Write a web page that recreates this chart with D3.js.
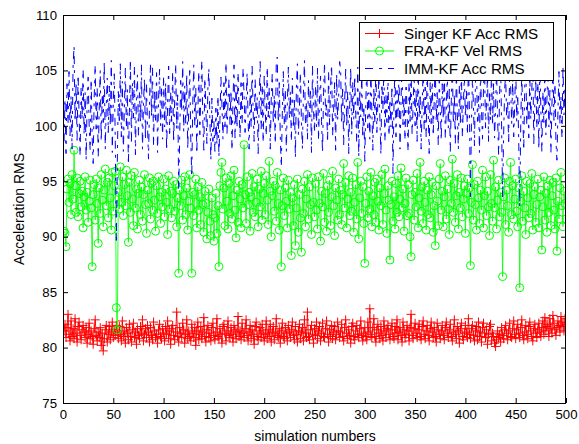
<!DOCTYPE html>
<html><head><meta charset="utf-8">
<script src="https://cdn.jsdelivr.net/npm/d3@7"></script>
<style>
html,body{margin:0;padding:0;background:#fff;}
svg{display:block;font-family:"Liberation Sans",Arial,sans-serif;}
</style></head>
<body>
<script>
// ---- data ----
const seriesNames = ["Singer KF Acc RMS", "FRA-KF Vel RMS", "IMM-KF Acc RMS"];
const xTicks = [0,50,100,150,200,250,300,350,400,450,500];
const yTicks = [75,80,85,90,95,100,105,110];
const xLabel = "simulation numbers";
const yLabel = "Acceleration RMS";

const singerKF = [
81.5,82.1,80.9,81.8,83.0,81.2,80.6,82.4,81.0,81.7,80.8,82.6,81.3,80.5,81.9,82.3,81.1,80.7,81.6,82.0,81.4,80.9,81.8,80.4,81.2,
82.2,80.8,81.5,81.0,80.3,81.7,82.5,81.1,80.6,81.4,80.9,81.8,80.2,81.3,79.7,80.8,81.6,82.0,80.5,81.2,81.9,80.7,81.4,82.3,80.9,
81.6,81.1,82.0,81.4,80.8,81.9,81.2,80.6,82.4,81.0,81.5,80.4,81.8,81.3,80.7,82.1,81.0,80.5,81.6,82.2,80.9,81.4,80.3,81.7,81.1,
80.8,81.9,81.3,82.5,80.6,81.2,81.7,80.9,82.0,81.4,80.5,81.8,81.1,80.7,82.3,81.5,80.9,81.2,80.4,81.6,82.1,81.0,80.8,81.7,81.3,
80.6,81.9,81.2,82.4,80.8,81.5,80.3,81.7,82.0,81.1,80.7,81.4,83.2,81.0,80.5,81.8,81.3,80.9,82.2,81.6,80.4,81.2,82.5,80.8,81.5,
81.0,80.6,82.1,81.3,80.9,81.8,80.2,81.5,82.3,80.7,81.2,81.9,80.8,81.4,82.7,81.0,80.5,81.6,82.0,80.9,81.3,80.6,81.8,82.2,81.1,
80.7,81.4,82.6,81.0,80.8,81.7,81.2,80.4,81.9,82.1,81.3,80.6,81.5,82.4,81.1,80.9,81.8,81.2,80.5,82.0,81.6,80.8,81.4,82.8,81.0,
81.5,80.7,82.2,81.3,80.9,81.7,82.5,81.1,80.6,81.4,82.0,80.8,81.6,81.2,80.3,81.9,82.3,81.0,80.7,81.5,81.8,80.9,82.1,81.3,80.6,
81.2,82.4,80.8,81.6,81.0,82.1,80.5,81.4,81.9,80.7,81.3,82.6,81.1,80.9,81.7,80.4,81.5,82.2,81.0,80.8,81.8,81.3,80.6,82.0,81.4,
80.9,81.6,82.3,81.1,80.7,81.9,81.2,80.5,81.5,82.1,80.8,81.4,81.8,80.6,82.5,81.3,80.9,83.2,81.0,80.7,81.6,82.0,81.2,80.4,81.7,
81.1,82.3,80.8,81.5,81.9,80.6,81.3,82.2,81.0,80.9,81.7,82.4,81.2,80.5,81.6,81.0,82.0,80.8,81.4,81.9,80.7,81.2,82.3,81.5,80.9,
81.4,82.1,81.0,80.6,81.8,82.5,81.3,80.8,81.6,81.1,80.4,81.9,82.2,81.0,80.7,81.5,82.0,81.2,80.9,81.7,82.4,81.1,80.6,81.3,81.8,
81.0,80.7,82.3,81.4,83.5,81.2,80.9,81.8,82.6,81.0,80.5,81.6,82.1,81.3,80.8,81.9,81.1,80.6,82.4,81.5,80.9,81.7,82.0,81.2,80.7,
81.6,82.2,81.0,80.8,81.9,81.3,82.5,80.7,81.4,81.8,81.1,80.5,82.3,81.6,80.9,81.2,82.0,81.5,80.6,81.8,83.0,81.1,80.8,81.7,82.2,
81.3,80.9,81.6,82.1,81.0,80.7,81.9,82.4,81.2,80.8,81.5,82.0,81.1,80.6,81.7,82.3,81.4,80.9,81.8,81.0,80.5,82.2,81.6,81.2,80.8,
81.5,82.0,81.1,80.7,81.8,82.3,81.3,80.9,81.6,82.1,81.0,80.6,81.4,82.5,81.2,80.8,81.9,81.5,80.4,81.7,82.2,81.0,80.7,81.3,82.0,
81.4,80.9,82.6,81.2,80.8,81.7,82.0,81.1,80.6,81.5,81.9,80.7,82.3,81.0,81.4,80.5,81.8,82.2,81.3,80.9,81.6,80.3,81.2,81.9,82.1,
80.6,81.3,81.0,80.4,80.1,80.7,81.5,80.9,81.2,80.5,81.8,81.1,80.8,81.6,82.0,81.3,80.7,81.5,82.2,81.0,80.9,81.7,82.4,81.2,80.8,
81.6,82.1,81.3,80.9,81.8,82.5,81.1,80.7,81.4,82.0,81.2,80.8,81.9,82.3,81.5,81.0,80.6,81.7,82.1,81.3,80.9,81.6,82.2,81.4,81.0,
81.8,82.4,81.2,82.7,81.5,81.9,82.1,81.0,82.6,81.7,81.3,82.9,82.2,81.6,81.1,81.8,82.4,82.0,81.4,82.8,81.9,82.3,81.5,82.6,82.1];

const fraKF = [
90.5,90.3,89.1,94.3,95.2,93.1,94.8,92.0,95.6,93.4,97.8,94.6,92.2,95.3,91.8,93.9,95.0,92.7,94.1,90.8,93.6,95.4,92.4,94.0,91.3,
93.2,95.1,92.6,87.3,93.8,94.7,91.5,95.2,93.0,89.4,94.4,92.1,95.6,93.3,90.9,94.2,96.1,92.8,94.9,91.7,95.3,93.5,90.6,95.8,92.3,
94.6,95.9,83.6,81.6,94.0,92.5,96.3,93.1,95.4,91.9,94.7,92.8,96.0,93.7,89.5,94.9,92.2,95.5,93.4,91.0,95.8,92.6,94.3,90.7,93.9,
95.1,92.0,94.5,91.4,93.8,95.6,92.9,90.3,94.2,93.0,95.3,91.6,94.8,92.4,95.0,93.3,90.5,94.6,92.1,95.4,93.6,91.2,94.0,92.7,95.2,
91.8,94.3,93.1,90.2,95.5,92.5,94.1,91.7,93.9,95.0,92.3,94.7,90.9,93.5,86.7,94.2,92.8,95.1,91.5,93.7,95.4,92.0,94.4,90.6,93.2,
95.6,92.6,86.7,94.0,91.9,93.8,95.2,90.8,94.5,92.4,93.6,91.1,94.9,92.9,90.4,94.1,93.0,89.8,92.2,94.3,91.4,90.1,93.5,92.0,89.6,
91.7,93.9,90.3,92.8,87.3,94.6,95.8,96.7,92.5,94.4,91.0,95.3,93.2,90.7,94.8,92.1,95.5,91.6,93.7,96.0,92.4,89.9,94.2,91.3,95.0,
93.4,90.8,94.7,92.6,98.3,93.8,91.2,95.4,92.9,94.0,90.5,93.6,95.7,92.2,94.5,91.8,93.1,95.2,90.9,94.3,92.7,95.9,91.5,93.9,94.8,
92.0,95.5,93.3,91.1,96.8,94.1,90.0,93.7,95.0,92.3,94.6,91.4,95.8,93.0,90.6,94.2,87.3,92.8,95.3,91.9,94.4,93.2,90.8,95.1,92.5,
94.0,88.3,93.5,91.0,94.7,89.2,92.6,95.2,90.4,93.8,91.7,88.6,94.3,92.1,95.0,90.9,93.4,95.6,91.6,94.5,92.9,90.2,95.3,93.1,91.8,
94.8,92.4,90.7,95.4,93.0,89.6,94.1,92.7,95.7,91.3,93.9,90.5,94.6,92.2,95.1,91.0,93.6,95.9,92.8,90.1,94.4,93.3,91.5,95.2,92.0,
94.2,91.1,93.8,96.6,92.6,94.9,90.8,93.4,95.5,91.9,94.0,92.3,95.3,90.4,93.1,94.7,91.6,96.7,89.8,93.5,95.0,92.1,94.5,91.2,87.6,
93.0,95.4,91.7,94.1,92.5,95.8,90.9,93.7,92.0,94.9,91.3,95.2,93.2,90.6,94.4,92.8,95.6,91.1,93.9,96.1,92.4,90.3,94.6,93.3,87.9,
92.9,95.0,91.4,93.6,90.7,94.8,92.2,95.5,91.8,93.4,96.2,92.6,94.3,90.5,93.0,95.3,91.9,94.7,92.1,90.0,88.2,93.8,95.1,91.5,94.0,
92.7,95.7,90.8,93.5,96.7,92.3,94.5,91.2,95.0,93.1,90.6,94.2,92.0,95.4,91.7,93.8,94.9,90.4,92.8,89.2,94.6,93.2,91.0,95.2,96.6,
92.4,94.1,90.9,93.6,95.5,91.6,94.3,92.5,90.2,95.1,93.0,97.0,92.2,94.8,91.3,93.7,95.6,90.7,94.0,92.6,95.3,91.8,93.4,94.6,90.3,
93.9,95.2,92.1,94.4,87.4,93.1,96.5,91.5,94.7,92.9,90.6,95.0,93.5,91.2,94.2,92.4,96.0,90.8,93.7,95.4,91.9,94.1,92.7,90.1,95.6,
93.0,91.4,96.9,92.6,94.5,90.7,93.3,95.1,91.8,94.0,92.2,86.4,93.6,95.3,91.1,94.2,92.8,90.4,95.0,96.7,92.0,94.6,91.6,93.4,95.2,
92.3,90.9,94.4,85.4,93.2,95.5,91.4,94.1,92.6,90.2,95.0,93.5,91.7,94.8,92.1,95.7,90.6,93.8,94.5,91.3,92.9,95.2,90.8,93.6,94.2,
88.8,92.7,95.4,91.5,93.9,90.4,94.6,92.2,95.1,91.0,93.7,94.9,92.4,90.7,95.3,88.7,93.2,91.6,94.4,95.8,92.8,90.9,94.1,93.0,91.6];

const immKF = [
98.6,102.4,97.5,103.8,100.2,104.9,99.1,102.7,97.9,105.3,107.2,100.4,103.9,98.7,104.6,101.0,97.3,103.5,100.6,105.1,99.2,103.0,96.9,102.2,104.4,
100.1,97.8,104.2,98.9,96.6,102.6,105.5,99.7,103.4,97.2,101.5,105.0,98.6,102.9,100.3,105.8,97.9,101.8,104.3,99.4,103.6,100.0,105.9,97.6,102.1,
104.7,98.5,89.4,96.8,103.1,100.2,105.6,99.0,104.0,97.7,101.6,105.2,99.8,103.3,96.5,101.2,106.0,98.6,103.9,100.7,105.4,97.4,102.5,104.6,99.1,
103.0,100.3,105.5,97.9,102.0,104.3,98.7,103.8,100.1,97.0,101.9,105.7,100.8,105.3,98.2,103.2,100.5,104.8,97.6,102.4,105.1,100.0,103.5,98.8,104.5,
99.9,103.9,97.8,102.0,105.4,99.3,103.1,100.4,104.9,98.5,102.3,105.6,99.7,102.8,94.2,99.0,104.1,101.3,105.8,99.5,103.6,100.2,104.7,97.9,101.6,
105.0,98.9,95.4,102.1,105.5,100.0,103.4,97.5,101.1,104.9,99.2,102.8,105.9,100.4,97.8,104.3,101.7,98.4,103.3,105.2,100.6,96.9,102.5,98.6,100.4,
97.7,101.6,98.3,102.7,97.2,100.5,104.4,101.9,98.8,103.9,99.9,105.7,99.3,102.1,104.2,100.1,103.2,97.8,102.4,105.5,98.9,103.7,99.8,104.8,101.5,
98.9,103.9,100.2,105.2,102.8,99.4,101.9,104.8,100.5,97.9,103.3,99.9,105.4,101.3,98.6,104.2,100.7,102.6,97.5,102.1,105.8,99.7,103.7,98.5,104.5,
101.5,99.1,105.3,100.8,103.5,97.9,102.4,104.7,100.2,102.8,98.4,105.8,106.2,100.3,103.9,99.0,96.3,101.1,104.9,100.0,103.2,97.7,102.0,105.3,100.6,
103.1,98.6,104.3,99.8,102.3,97.1,103.5,105.6,99.2,101.7,104.8,100.5,97.9,102.8,105.9,100.1,102.2,98.8,104.1,100.8,103.4,97.6,105.4,101.5,99.4,
103.6,99.9,105.2,98.7,102.4,104.5,100.4,97.6,103.0,105.7,100.9,101.9,98.5,104.9,100.1,103.7,105.5,99.1,101.4,103.9,97.8,104.7,100.5,102.6,105.8,
105.0,100.2,103.6,98.3,102.3,105.1,99.9,103.1,97.5,101.9,105.3,99.2,103.9,100.6,104.5,101.0,98.5,105.3,97.2,103.3,100.8,104.8,98.9,101.8,96.8,
102.1,105.4,99.8,103.0,98.8,104.9,101.4,97.8,103.5,100.2,105.7,99.4,102.0,104.3,100.7,97.4,103.8,101.5,105.2,98.6,102.8,100.3,104.6,99.1,102.4,
99.9,103.6,95.7,101.8,105.5,99.0,103.2,100.8,104.9,97.9,102.2,105.8,100.1,102.7,98.7,104.4,101.2,97.7,103.9,100.4,105.3,99.3,101.7,104.7,100.0,
103.3,98.6,105.6,100.7,102.9,97.9,101.9,105.1,99.7,103.5,99.0,105.4,101.5,97.5,103.9,100.2,104.6,99.1,102.3,105.9,100.4,103.0,98.3,104.2,101.7,
98.7,103.8,100.6,105.5,98.9,101.4,104.8,99.8,103.3,97.7,102.3,105.7,100.2,102.9,98.4,105.0,101.0,97.9,103.7,100.3,105.2,99.0,102.0,104.5,100.8,
103.2,99.2,106.0,101.3,93.6,100.1,104.3,101.8,98.2,103.9,105.4,100.4,102.7,97.6,104.9,101.5,98.8,103.5,105.6,99.8,102.2,104.4,98.6,103.0,100.5,
105.3,100.0,103.8,98.9,101.7,105.1,100.7,97.4,103.1,105.8,99.9,93.6,99.1,103.3,104.6,100.8,102.1,98.3,105.2,103.5,100.2,104.3,99.0,101.9,105.5,
100.4,102.8,98.7,92.7,100.0,104.7,101.2,97.8,103.6,105.7,100.1,102.4,98.9,104.5,100.6,103.2,106.0,98.4,102.0,104.2,99.8,103.9,97.9,105.6,101.6,
97.7,103.1,100.3,105.3,99.2,102.3,104.8,99.9,103.2,97.6,101.8,105.6,100.5,103.8,98.6,96.9,101.4,104.9,100.2,102.7,98.9,105.4,101.0,103.5,100.7];

// ---- layout ----
const W = 579, H = 444;
const M = {left: 63, right: 566, top: 15, bottom: 403};
const FS_TICK = 13.2, FS_LABEL = 14, FS_LEGEND = 15.2;

const svg = d3.select("body").append("svg").attr("width", W).attr("height", H);
svg.append("rect").attr("width", W).attr("height", H).attr("fill", "#fff");

const x = d3.scaleLinear().domain([0, 500]).range([M.left, M.right]);
const y = d3.scaleLinear().domain([75, 110]).range([M.bottom, M.top]);

svg.append("clipPath").attr("id", "clip").append("rect")
  .attr("x", M.left).attr("y", M.top).attr("width", M.right - M.left).attr("height", M.bottom - M.top);

const plot = svg.append("g").attr("clip-path", "url(#clip)");
const line = d3.line().x((d, i) => x(i + 1)).y(d => y(d));
const plusSize = 4.5;
const RED = "#ff0000", GREEN = "#00ff00", BLUE = "#0000ff";

// Singer KF (red, +)
plot.append("path").datum(singerKF).attr("d", line)
  .style("fill", "none").style("stroke", RED).style("stroke-width", 0.9);
plot.append("g").selectAll("path").data(singerKF).join("path")
  .attr("d", (d, i) => {
    const cx = x(i + 1), cy = y(d);
    return `M${cx - plusSize},${cy}H${cx + plusSize}M${cx},${cy - plusSize}V${cy + plusSize}`;
  })
  .style("stroke", RED).style("stroke-width", 1).style("fill", "none");

// FRA-KF (green, o)
plot.append("path").datum(fraKF).attr("d", line)
  .style("fill", "none").style("stroke", GREEN).style("stroke-width", 0.8);
plot.append("g").selectAll("circle").data(fraKF).join("circle")
  .attr("cx", (d, i) => x(i + 1)).attr("cy", d => y(d)).attr("r", 4)
  .style("fill", "none").style("stroke", GREEN).style("stroke-width", 1);

// IMM-KF (blue, dash-dot)
plot.append("path").datum(immKF).attr("d", line)
  .style("fill", "none").style("stroke", BLUE).style("stroke-width", 1)
  .style("stroke-dasharray", "8,6,3,6");

// ---- axes (MATLAB-style box with inward ticks) ----
const tickLen = 5;
const axisG = svg.append("g");
const xb = d3.axisBottom(x).tickValues(xTicks).tickSizeInner(-tickLen).tickSizeOuter(0).tickPadding(7);
const xt = d3.axisTop(x).tickValues(xTicks).tickSizeInner(-tickLen).tickSizeOuter(0).tickFormat("");
const yl = d3.axisLeft(y).tickValues(yTicks).tickSizeInner(-tickLen).tickSizeOuter(0).tickPadding(6);
const yr = d3.axisRight(y).tickValues(yTicks).tickSizeInner(-tickLen).tickSizeOuter(0).tickFormat("");

axisG.append("g").attr("transform", `translate(0,${M.bottom})`).call(xb);
axisG.append("g").attr("transform", `translate(0,${M.top})`).call(xt);
axisG.append("g").attr("transform", `translate(${M.left},0)`).call(yl);
axisG.append("g").attr("transform", `translate(${M.right},0)`).call(yr);
axisG.selectAll(".domain").remove();
axisG.selectAll(".tick line").style("stroke", "#000").style("stroke-width", 1);
axisG.selectAll(".tick text").style("fill", "#000").style("font-size", FS_TICK + "px")
  .style("font-family", '"Liberation Sans", Arial, sans-serif');

svg.append("rect").attr("x", M.left + 0.5).attr("y", M.top + 0.5)
  .attr("width", M.right - M.left - 1).attr("height", M.bottom - M.top)
  .style("fill", "none").style("stroke", "#000").style("stroke-width", 1);

// axis labels
svg.append("text").attr("x", (M.left + M.right) / 2 + 0.5).attr("y", 441)
  .attr("text-anchor", "middle").style("font-size", FS_LABEL + "px").text(xLabel);
svg.append("text").attr("transform", `translate(24,${(M.top + M.bottom) / 2}) rotate(-90)`)
  .attr("text-anchor", "middle").style("font-size", FS_LABEL + "px").text(yLabel);

// ---- legend ----
const lg = svg.append("g");
const L = {x: 359, y: 22, w: 194, h: 58};
lg.append("rect").attr("x", L.x + 0.5).attr("y", L.y + 0.5).attr("width", L.w).attr("height", L.h)
  .style("fill", "#fff").style("stroke", "#000").style("stroke-width", 1);
const rowY = [L.y + 11.5, L.y + 29, L.y + 46.5];
const colors = [RED, GREEN, BLUE];
seriesNames.forEach((name, k) => {
  const cy = rowY[k];
  const ln = lg.append("line").attr("x1", L.x + 6).attr("x2", L.x + 35).attr("y1", cy).attr("y2", cy)
    .style("stroke", colors[k]).style("stroke-width", 1);
  if (k === 2) ln.style("stroke-dasharray", "8,6,3,6");
  const mx = L.x + 20.5;
  if (k === 0) lg.append("path").attr("d", `M${mx - plusSize},${cy}H${mx + plusSize}M${mx},${cy - plusSize}V${cy + plusSize}`)
    .style("stroke", colors[k]).style("stroke-width", 1).style("fill", "none");
  if (k === 1) lg.append("circle").attr("cx", mx).attr("cy", cy).attr("r", 4)
    .style("fill", "none").style("stroke", colors[k]).style("stroke-width", 1);
  lg.append("text").attr("x", L.x + 45).attr("y", cy).attr("dy", "0.35em")
    .style("font-size", FS_LEGEND + "px").style("fill", "#000").text(name);
});
</script>
</body></html>
